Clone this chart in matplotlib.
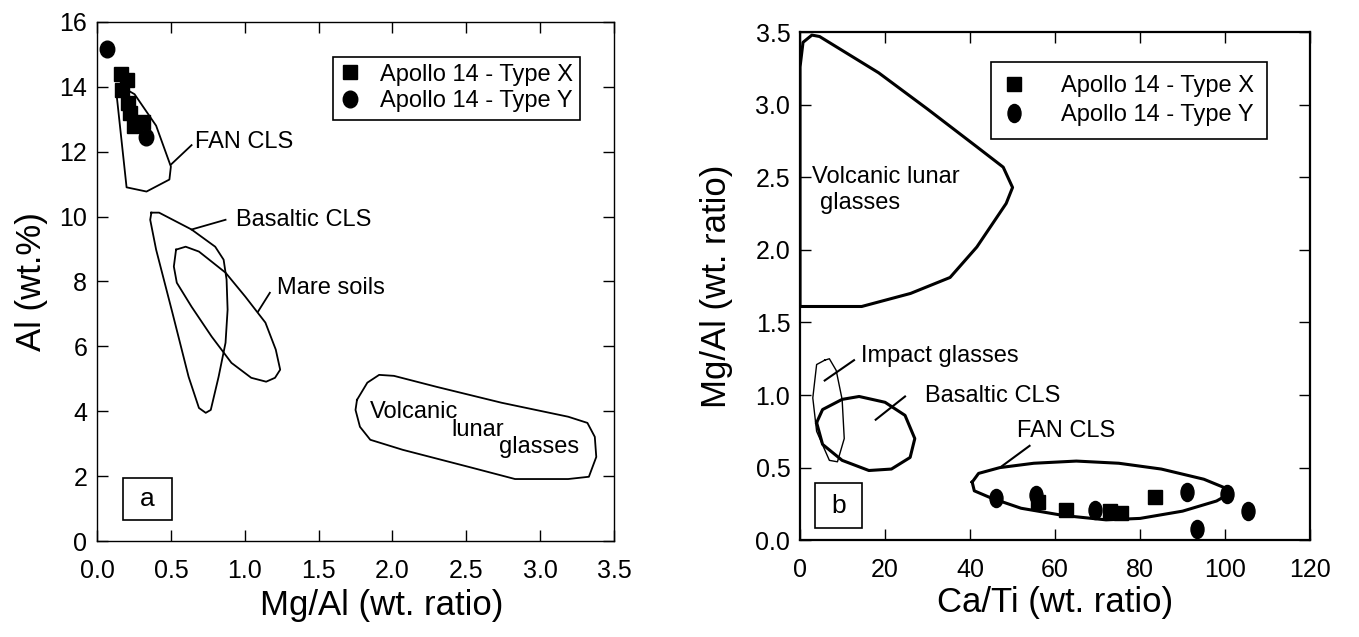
import numpy as np
import matplotlib
matplotlib.use("Agg")
import matplotlib.pyplot as plt
from matplotlib.path import Path
from matplotlib.patches import Rectangle

plt.rcParams['font.family'] = ['Liberation Sans', 'DejaVu Sans']

# ---- panel a : Al vs Mg/Al ----
a_x_typex = [0.16, 0.20, 0.17, 0.21, 0.22, 0.25, 0.31]
a_y_typex = [14.4, 14.2, 13.9, 13.5, 13.2, 12.8, 12.9]
a_x_typey = [0.07, 0.33]
a_y_typey = [15.15, 12.45]

fan_a_x = [0.13, 0.20, 0.335, 0.49, 0.50, 0.40, 0.254, 0.174, 0.13]
fan_a_y = [13.86, 10.9, 10.77, 11.14, 11.54, 12.8, 13.77, 13.98, 13.86]

bas_a_x = [0.368, 0.42, 0.64, 0.80, 0.857, 0.877, 0.884, 0.87, 0.823, 0.77, 0.736,
           0.69, 0.62, 0.51, 0.40, 0.36, 0.368]
bas_a_y = [10.12, 10.12, 9.6, 9.07, 8.67, 8.06, 7.13, 6.11, 5.06, 4.04, 3.95,
           4.1, 5.06, 7.04, 8.98, 9.9, 10.12]

mare_x = [0.535, 0.60, 0.69, 0.776, 0.87, 1.004, 1.14, 1.21, 1.24, 1.205, 1.145,
          1.044, 0.91, 0.776, 0.64, 0.54, 0.52, 0.535]
mare_y = [8.98, 9.07, 8.92, 8.61, 8.27, 7.53, 6.73, 5.9, 5.28, 5.03, 4.91,
          5.03, 5.49, 6.3, 7.22, 7.96, 8.46, 8.98]

vol_a_x = [1.76, 1.83, 1.91, 2.01, 2.30, 2.74, 3.19, 3.32, 3.37, 3.38, 3.33, 3.19,
           2.83, 2.52, 2.07, 1.85, 1.78, 1.75, 1.76]
vol_a_y = [4.35, 4.88, 5.12, 5.09, 4.75, 4.26, 3.83, 3.64, 3.21, 2.59, 1.98, 1.91,
           1.91, 2.28, 2.81, 3.12, 3.52, 4.04, 4.35]

# ---- panel b : Mg/Al vs Ca/Ti ----
b_x_typex = [56, 62.5, 73, 75.5, 83.5]
b_y_typex = [0.26, 0.21, 0.20, 0.19, 0.30]
b_x_typey = [46, 55.5, 69.5, 91, 100.5, 105.5, 93.5]
b_y_typey = [0.29, 0.31, 0.21, 0.33, 0.32, 0.20, 0.08]

vol_b_x = [0, 0, 0.7, 2.8, 4.6, 18.5, 30, 41.6, 47.8, 50, 48.5, 41.6, 35.3, 26, 14.5, 0]
vol_b_y = [1.61, 3.26, 3.43, 3.48, 3.47, 3.22, 2.97, 2.71, 2.57, 2.43, 2.32, 2.02,
           1.81, 1.70, 1.61, 1.61]

imp_x = [5.8, 3.9, 3.0, 3.9, 6.9, 8.8, 10.4, 9.9, 8.5, 6.9, 5.8]
imp_y = [1.24, 1.21, 0.98, 0.75, 0.55, 0.54, 0.70, 0.97, 1.17, 1.25, 1.24]

bas_b_x = [3.9, 5.3, 9.9, 13.9, 20, 24.7, 27, 25.9, 21.5, 16.2, 9.9, 5.3, 3.9]
bas_b_y = [0.81, 0.90, 0.97, 0.99, 0.95, 0.86, 0.70, 0.57, 0.49, 0.48, 0.55, 0.66, 0.81]

fan_b_x = [40.5, 42, 47, 55, 65, 75, 85, 95, 100, 101, 98, 90, 80, 72, 62, 52, 45, 41, 40.5]
fan_b_y = [0.40, 0.46, 0.50, 0.53, 0.545, 0.53, 0.49, 0.42, 0.36, 0.32, 0.27, 0.20,
           0.15, 0.14, 0.17, 0.22, 0.29, 0.34, 0.40]

# slightly tall round dots, like the printed symbols
circ = Path.unit_circle()
dot_a = Path(circ.vertices * [0.87, 1.0], circ.codes)
dot_b = Path(circ.vertices * [0.72, 1.0], circ.codes)

fig = plt.figure(figsize=(13.59, 6.37), dpi=100)
ax1 = fig.add_axes([0.0714, 0.1507, 0.3804, 0.815])
ax2 = fig.add_axes([0.5887, 0.152, 0.3753, 0.7975])

tfs = 17
kfs = 18
afs = 25

# panel a
for xs, ys in [(fan_a_x, fan_a_y), (bas_a_x, bas_a_y), (mare_x, mare_y), (vol_a_x, vol_a_y)]:
    ax1.plot(xs, ys, color='black', lw=1.3, solid_joinstyle='round')
ax1.plot(a_x_typex, a_y_typex, 's', color='black', ms=10.5, ls='none', label='Apollo 14 - Type X')
ax1.plot(a_x_typey, a_y_typey, marker=dot_a, color='black', ms=12, ls='none',
         label='Apollo 14 - Type Y')

ax1.text(0.66, 12.3, 'FAN CLS', fontsize=tfs, va='center')
ax1.plot([0.64, 0.50], [12.2, 11.6], color='black', lw=1.3)
ax1.text(0.94, 9.9, 'Basaltic CLS', fontsize=tfs, va='center')
ax1.plot([0.87, 0.64], [9.9, 9.6], color='black', lw=1.3)
ax1.text(1.22, 7.8, 'Mare soils', fontsize=tfs, va='center')
ax1.plot([1.17, 1.09], [7.65, 7.07], color='black', lw=1.3)
ax1.text(1.85, 3.98, 'Volcanic', fontsize=tfs, va='center')
ax1.text(2.40, 3.43, 'lunar', fontsize=tfs, va='center')
ax1.text(2.72, 2.9, 'glasses', fontsize=tfs, va='center')
ax1.add_patch(Rectangle((0.05, 0.04), 0.095, 0.081, transform=ax1.transAxes,
                        fc='white', ec='black', lw=1.2))
ax1.text(0.0975, 0.081, 'a', transform=ax1.transAxes, fontsize=19, ha='center', va='center')

ax1.set_xlim(0, 3.5)
ax1.set_ylim(0, 16)
ax1.set_xticks(np.arange(0, 3.51, 0.5))
ax1.set_xticklabels(['%.1f' % v for v in np.arange(0, 3.51, 0.5)])
ax1.set_yticks(np.arange(0, 17, 2))
ax1.set_xlabel('Mg/Al (wt. ratio)', fontsize=afs, labelpad=4)
ax1.xaxis.set_label_coords(0.55, -0.092)
ax1.set_ylabel('Al (wt.%)', fontsize=afs, labelpad=8)
leg1 = ax1.legend(loc='upper right', bbox_to_anchor=(0.935, 0.933), borderaxespad=0,
                  fontsize=tfs, fancybox=False, edgecolor='black', framealpha=1,
                  handletextpad=0.9, borderpad=0.3, labelspacing=0.2, handlelength=0.8)
leg1.get_frame().set_linewidth(1.2)

# panel b
ax2.plot(vol_b_x, vol_b_y, color='black', lw=2.2, solid_joinstyle='round')
ax2.plot(imp_x, imp_y, color='black', lw=1.0, solid_joinstyle='round')
ax2.plot(bas_b_x, bas_b_y, color='black', lw=2.2, solid_joinstyle='round')
ax2.plot(fan_b_x, fan_b_y, color='black', lw=2.2, solid_joinstyle='round')
ax2.plot(b_x_typex, b_y_typex, 's', color='black', ms=10.5, ls='none', label='Apollo 14 - Type X')
ax2.plot(b_x_typey, b_y_typey, marker=dot_b, color='black', ms=13, ls='none',
         label='Apollo 14 - Type Y')

ax2.text(2.8, 2.5, 'Volcanic lunar', fontsize=tfs, va='center')
ax2.text(4.6, 2.32, 'glasses', fontsize=tfs, va='center')
ax2.text(14.3, 1.27, 'Impact glasses', fontsize=tfs, va='center')
ax2.plot([12.7, 5.8], [1.24, 1.1], color='black', lw=1.5)
ax2.text(29.3, 0.99, 'Basaltic CLS', fontsize=tfs, va='center')
ax2.plot([24.7, 17.8], [0.99, 0.83], color='black', lw=1.5)
ax2.text(51, 0.75, 'FAN CLS', fontsize=tfs, va='center')
ax2.plot([54, 47.5], [0.65, 0.51], color='black', lw=1.5)
ax2.add_patch(Rectangle((0.029, 0.024), 0.093, 0.088, transform=ax2.transAxes,
                        fc='white', ec='black', lw=1.2))
ax2.text(0.0755, 0.068, 'b', transform=ax2.transAxes, fontsize=19, ha='center', va='center')

ax2.set_xlim(0, 120)
ax2.set_ylim(0, 3.5)
ax2.set_xticks(np.arange(0, 121, 20))
ax2.set_yticks(np.arange(0, 3.51, 0.5))
ax2.set_yticklabels(['%.1f' % v for v in np.arange(0, 3.51, 0.5)])
ax2.set_xlabel('Ca/Ti (wt. ratio)', fontsize=afs, labelpad=3)
ax2.set_ylabel('Mg/Al (wt. ratio)', fontsize=afs, labelpad=16)
leg2 = ax2.legend(loc='upper right', bbox_to_anchor=(0.915, 0.941), borderaxespad=0,
                  fontsize=tfs, fancybox=False, edgecolor='black', framealpha=1,
                  handletextpad=1.6, borderpad=0.55, labelspacing=0.3, handlelength=0.8)
leg2.get_frame().set_linewidth(1.2)

for ax, lw in [(ax1, 1.0), (ax2, 1.6)]:
    ax.tick_params(direction='in', length=8, width=1.0, labelsize=kfs, top=True, right=True)
    ax.tick_params(axis='x', pad=13)
    ax.tick_params(axis='y', pad=7)
    for s in ax.spines.values():
        s.set_linewidth(lw)

fig.savefig('out.png', dpi=100)
